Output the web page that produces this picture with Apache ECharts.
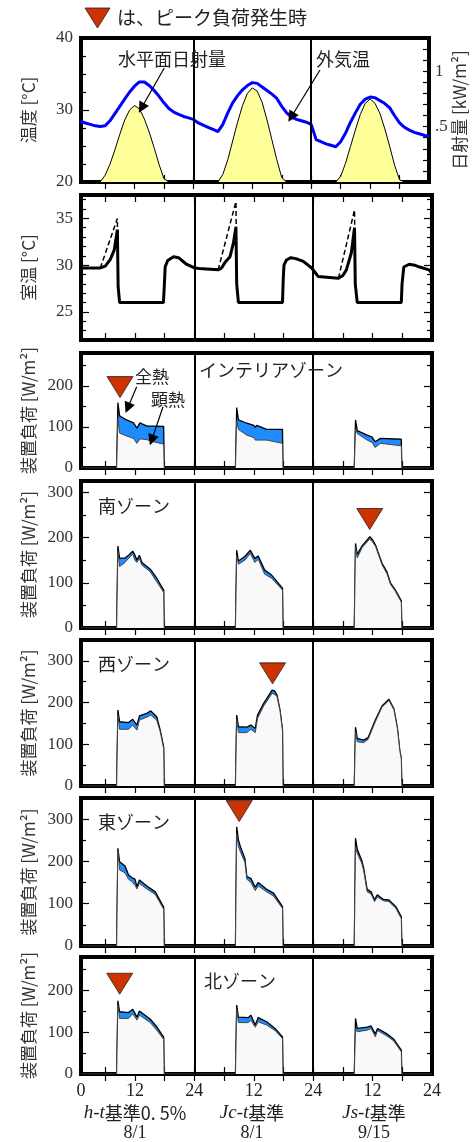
<!DOCTYPE html>
<html><head><meta charset="utf-8"><title>chart</title>
<script src="https://cdn.jsdelivr.net/npm/echarts@6.0.0/dist/echarts.min.js"></script>
<style>html,body{margin:0;padding:0;background:#fff;}#chart{width:476px;height:1142px;}</style>
</head><body><div id="chart"></div>
<script>
// ---------------- data ----------------
const outdoorTemp = [
  28.4, 28.2, 28.0, 27.8, 27.7, 27.8, 28.5, 29.5, 30.5, 31.5, 32.5, 33.3, 33.9, 33.9, 33.4, 32.7, 31.9, 31.0, 30.2, 29.7, 29.4, 29.1, 28.9, 28.7,
  28.2, 27.9, 27.6, 27.3, 27.0, 28.0, 29.6, 31.0, 32.0, 32.8, 33.4, 33.8, 33.7, 33.2, 32.7, 32.2, 31.6, 30.5, 29.6, 29.0, 28.7, 28.5, 28.3, 28.0,
  25.9, 25.6, 25.3, 25.1, 24.9, 25.6, 26.8, 28.3, 29.6, 30.8, 31.5, 31.8, 31.7, 31.3, 30.9, 30.3, 29.2, 28.2, 27.6, 27.2, 26.9, 26.7, 26.5, 26.3];
const solarRad = [
  0, 0, 0, 0, 0, 0.06, 0.16, 0.29, 0.43, 0.56, 0.65, 0.69, 0.66, 0.57, 0.45, 0.31, 0.16, 0.03, 0, 0, 0, 0, 0, 0,
  0, 0, 0, 0, 0, 0.07, 0.20, 0.37, 0.54, 0.69, 0.80, 0.85, 0.82, 0.72, 0.56, 0.38, 0.20, 0.04, 0, 0, 0, 0, 0, 0,
  0, 0, 0, 0, 0, 0.05, 0.17, 0.32, 0.47, 0.61, 0.71, 0.75, 0.71, 0.62, 0.48, 0.32, 0.15, 0.02, 0, 0, 0, 0, 0, 0];
const hours = Array.from({length: 72}, (_, i) => i + 1);

const roomHours = [1.1, 5.0, 6.0, 7.0, 7.8, 8.45, 8.6, 8.9, 17.75, 17.95, 18.1, 18.6, 19.8, 20.8, 22.4, 24.0,
  25.0, 28.8, 29.5, 30.2, 31.2, 31.9, 32.4, 32.55, 32.9, 41.8, 41.95, 42.1, 42.6, 43.5, 44.5, 46.0, 47.7, 48.0,
  49.0, 53.1, 54.0, 54.7, 55.7, 56.35, 56.5, 56.9, 65.8, 65.95, 66.3, 67.4, 68.5, 69.5, 71.4, 72];
const roomTemp = [29.7, 29.7, 29.9, 30.6, 31.6, 33.8, 27.7, 26.0, 26.0, 28.0, 29.8, 30.5, 30.9, 30.8, 30.1, 29.7,
  29.65, 29.5, 29.7, 30.3, 30.9, 32.4, 34.1, 28.0, 26.0, 26.0, 28.5, 30.0, 30.55, 30.8, 30.7, 30.4, 29.7, 29.6,
  28.8, 28.6, 28.9, 29.5, 31.3, 34.0, 28.0, 26.0, 26.0, 28.0, 29.8, 30.1, 30.0, 29.8, 29.5, 29.1];
const roomDashHours = [[5.0, 8.45, 8.6], [28.8, 32.4, 32.55], [53.1, 56.35, 56.5]];
const roomDashTemp = [[29.7, 35.0, 27.7], [29.5, 36.8, 28.0], [28.6, 35.9, 28.0]];

const intHours = [1.1, 8.3, 8.55, 8.8, 8.9, 10.3, 11.7, 12.4, 13.0, 14.4, 15.7, 17.8, 17.9,
  32.3, 32.55, 32.8, 32.9, 34.6, 36.0, 36.3, 36.6, 38.6, 41.8, 41.9,
  56.3, 56.55, 56.8, 56.9, 58.9, 59.9, 60.5, 61.6, 65.8, 65.9, 72];
const intTotal = [0, 0, 159, 159, 127, 117, 110, 97, 110, 102, 102, 101, 0,
  0, 147, 147, 117, 109, 104, 99, 104, 94, 94, 0,
  0, 117, 117, 91, 80, 75, 64, 72, 70, 0, 0];
const intSens = [0, 0, 120, 120, 85, 78, 72, 60, 71, 69, 64, 58, 0,
  0, 115, 115, 94, 80, 74, 68, 72, 68, 60, 0,
  0, 95, 95, 84, 68, 62, 50, 60, 54, 0, 0];

const southHours = [1.1, 8.3, 8.55, 8.8, 8.9, 10.0, 10.7, 11.55, 12.0, 12.4, 12.9, 13.4, 15.1, 16.4, 17.8, 17.9,
  32.3, 32.55, 32.8, 32.9, 34.2, 35.3, 36.2, 36.9, 38.2, 39.6, 41.8, 41.9,
  56.3, 56.55, 56.8, 56.9, 57.9, 59.45, 60.0, 60.6, 61.9, 62.9, 63.6, 64.6, 65.8, 65.9, 72];
const southTotal = [0, 0, 181, 181, 154, 155, 161, 170, 161, 150, 161, 145, 130, 110, 84, 0,
  0, 172, 172, 148, 158, 172, 154, 159, 128, 117, 88, 0,
  0, 187, 187, 163, 182, 202, 195, 183, 143, 124, 100, 84, 60, 0, 0];
const southSens = [0, 0, 170, 170, 136, 145, 154, 163, 150, 145, 154, 139, 124, 102, 79, 0,
  0, 160, 160, 141, 150, 165, 145, 152, 119, 110, 84, 0,
  0, 180, 180, 155, 178, 197, 190, 180, 140, 120, 97, 81, 57, 0, 0];

const westHours = [1.1, 8.3, 8.55, 8.8, 8.9, 10.7, 11.55, 12.4, 12.9, 14.4, 15.2, 16.4, 17.1, 17.8, 17.9,
  32.3, 32.55, 32.8, 32.9, 34.6, 35.4, 36.3, 36.75, 38.0, 39.7, 40.2, 40.7, 41.3, 41.8, 41.9,
  56.3, 56.55, 56.8, 56.9, 58.2, 59.1, 59.5, 60.55, 61.9, 63.3, 64.3, 65.0, 65.5, 65.8, 65.9, 72];
const westTotal = [0, 0, 182, 182, 154, 152, 160, 146, 168, 174, 180, 166, 134, 94, 0,
  0, 170, 170, 142, 141, 146, 138, 170, 198, 230, 228, 218, 182, 134, 0,
  0, 141, 141, 114, 110, 116, 120, 158, 192, 208, 185, 140, 85, 66, 0, 0];
const westSens = [0, 0, 170, 170, 136, 136, 146, 134, 158, 165, 170, 158, 130, 90, 0,
  0, 160, 160, 128, 128, 136, 128, 162, 192, 222, 220, 214, 180, 132, 0,
  0, 130, 130, 106, 104, 112, 116, 154, 189, 205, 183, 138, 84, 65, 0, 0];

const eastHours = [1.1, 8.3, 8.55, 8.8, 8.9, 10.0, 10.7, 11.35, 12.0, 12.4, 12.9, 14.4, 16.1, 17.8, 17.9,
  32.3, 32.55, 32.8, 32.9, 33.3, 34.2, 34.6, 35.4, 36.3, 36.9, 38.6, 40.0, 41.8, 41.9,
  56.3, 56.55, 56.8, 56.9, 57.8, 58.2, 58.9, 59.7, 60.4, 60.95, 62.2, 63.3, 64.7, 65.8, 65.9, 72];
const eastTotal = [0, 0, 231, 231, 199, 189, 168, 162, 158, 140, 156, 142, 128, 92, 0,
  0, 282, 282, 251, 235, 207, 164, 160, 139, 150, 134, 125, 93, 0,
  0, 255, 255, 229, 203, 184, 134, 128, 109, 121, 110, 109, 93, 69, 0, 0];
const eastSens = [0, 0, 225, 225, 180, 173, 158, 152, 144, 135, 148, 135, 122, 87, 0,
  0, 265, 265, 235, 223, 198, 158, 150, 131, 142, 128, 118, 89, 0,
  0, 235, 235, 219, 196, 178, 128, 123, 105, 116, 107, 105, 89, 65, 0, 0];

const northHours = [1.1, 8.3, 8.55, 8.8, 8.9, 10.7, 11.55, 12.4, 12.9, 15.1, 16.4, 17.8, 17.9,
  32.3, 32.55, 32.8, 32.9, 34.9, 35.4, 36.3, 36.9, 38.6, 40.3, 41.8, 41.9,
  56.3, 56.55, 56.8, 56.9, 58.9, 59.7, 60.55, 61.0, 62.9, 64.3, 65.8, 65.9, 72];
const northTotal = [0, 0, 175, 175, 149, 147, 155, 136, 151, 131, 113, 88, 0,
  0, 165, 165, 136, 135, 141, 117, 135, 125, 109, 89, 0,
  0, 133, 133, 109, 112, 115, 96, 109, 96, 83, 57, 0, 0];
const northSens = [0, 0, 165, 165, 133, 133, 144, 129, 141, 123, 105, 83, 0,
  0, 155, 155, 123, 123, 129, 112, 125, 117, 104, 85, 0,
  0, 108, 108, 101, 105, 109, 89, 104, 91, 79, 53, 0, 0];

const zoneNames = ['インテリアゾーン', '南ゾーン', '西ゾーン', '東ゾーン', '北ゾーン'];
const peakHours = [8.98, 59.42, 39.79, 33.06, 8.92];
const peakMarkLevels = [197, 241, 270, 319, 216];

const xLabelValues = [1.1, 12, 24, 36, 48, 60, 72];
const xTickLabels = ['0', '12', '24', '12', '24', '12', '24'];
const hourTicks = [6, 12, 18, 24, 30, 36, 42, 48, 54, 60, 66];
const caseLabels = ['{i|h-t}基準0. 5%', '{i|Jc-t}基準', '{i|Js-t}基準'];
const caseDates = ['8/1', '8/1', '9/15'];
// annotation arrows [fromX, fromY, toX, toY] in data units
const weatherArrows = [[18.07, 35.83, 13.42, 30.28], [49.79, 35.56, 43.93, 29.03]];
const loadArrows = [[12.35, 198, 10.53, 146], [17.67, 149, 15.38, 68]];

// ---------------- layout / style ----------------
const SERIF = "'Liberation Serif','DejaVu Serif',serif";
const JP = "'Noto Sans CJK JP','Noto Sans',sans-serif";
const LOADNAME = '装置負荷 [W/m²]';
const GL = 81, GW = 351;
const tops = [38, 195, 353, 481, 640, 798, 957];
const heights = [144, 145, 115, 147, 146, 148, 117];
const yCfg = [
  {min: 20, max: 40, major: [20, 30, 40], minor: [22.5, 25, 27.5, 32.5, 35, 37.5], name: '温度 [°C]'},
  {min: 22, max: 37.5, major: [25, 30, 35], minor: [23, 24, 26, 27, 28, 29, 31, 32, 33, 34, 36, 37], name: '室温 [°C]'},
  {min: 0, max: 280, major: [0, 100, 200], minor: [50, 150, 250], name: LOADNAME},
  {min: 0, max: 325, major: [0, 100, 200, 300], minor: [50, 150, 250], name: LOADNAME},
  {min: 0, max: 350, major: [0, 100, 200, 300], minor: [50, 150, 250], name: LOADNAME},
  {min: 0, max: 350, major: [0, 100, 200, 300], minor: [50, 150, 250], name: LOADNAME},
  {min: 0, max: 280, major: [0, 100, 200], minor: [50, 150, 250], name: LOADNAME}
];
const zip = (xs, ys) => xs.map((x, i) => [x, ys[i]]);
const tickStyle = {color: '#000', width: 1.2};

const grid = [], xAxis = [], yAxis = [], series = [];
tops.forEach((t, i) => {
  grid.push({left: GL, width: GW, top: t, height: heights[i], show: true, borderColor: '#000', borderWidth: 4, backgroundColor: 'rgba(0,0,0,0)'});
  const last = i === 6;
  xAxis.push({gridIndex: i, type: 'value', min: 1.1, max: 72, position: 'bottom',
    axisLine: {show: false}, splitLine: {show: false},
    axisTick: {show: true, inside: true, length: 7, customValues: hourTicks, lineStyle: tickStyle},
    axisLabel: {show: last, customValues: xLabelValues, showMinLabel: true, showMaxLabel: true,
      formatter: v => { const k = xLabelValues.findIndex(a => Math.abs(a - v) < 0.01); return k >= 0 ? xTickLabels[k] : ''; },
      fontFamily: SERIF, fontSize: 18, color: '#222', margin: 8}});
  xAxis.push({gridIndex: i, type: 'value', min: 1.1, max: 72, position: 'top',
    axisLine: {show: false}, splitLine: {show: false},
    axisTick: {show: true, inside: true, length: 7, customValues: hourTicks, lineStyle: tickStyle},
    axisLabel: {show: false}});
  const c = yCfg[i];
  yAxis.push({gridIndex: i, type: 'value', min: c.min, max: c.max, position: 'left',
    axisLine: {show: false}, splitLine: {show: false},
    axisTick: {show: true, inside: true, length: 8, customValues: c.major, lineStyle: tickStyle},
    axisLabel: {show: true, customValues: c.major, showMinLabel: true, showMaxLabel: true, formatter: v => String(v),
      fontFamily: SERIF, fontSize: 17, color: '#333', margin: 8},
    name: c.name, nameLocation: 'middle', nameGap: 44, nameRotate: 90, nameMoveOverlap: false,
    nameTextStyle: {fontFamily: JP, fontSize: 17, color: '#333'}});
  yAxis.push({gridIndex: i, type: 'value', min: c.min, max: c.max, position: 'left',
    axisLine: {show: false}, splitLine: {show: false},
    axisTick: {show: true, inside: true, length: 5, customValues: c.minor, lineStyle: tickStyle},
    axisLabel: {show: false}});
  if (i === 0) {
    yAxis.push({gridIndex: 0, type: 'value', min: 0, max: 1.3, position: 'right',
      axisLine: {show: false}, splitLine: {show: false},
      axisTick: {show: true, inside: true, length: 6, customValues: [0.1,0.2,0.3,0.4,0.5,0.6,0.7,0.8,0.9,1.0,1.1,1.2], lineStyle: tickStyle},
      axisLabel: {show: true, customValues: [0.5, 1], formatter: v => (Math.abs(v - 1) < 0.01 ? '1' : '.5'),
        fontFamily: SERIF, fontSize: 17, color: '#333', margin: 6},
      name: '日射量 [kW/m²]', nameLocation: 'middle', nameGap: 22, nameRotate: 90, nameMoveOverlap: false,
      nameTextStyle: {fontFamily: JP, fontSize: 17, color: '#333'}});
    yAxis.push({gridIndex: 0, type: 'value', min: 0, max: 1.3, position: 'right', show: false});
  } else {
    yAxis.push({gridIndex: i, type: 'value', min: c.min, max: c.max, position: 'right',
      axisLine: {show: false}, splitLine: {show: false},
      axisTick: {show: true, inside: true, length: 8, customValues: c.major, lineStyle: tickStyle},
      axisLabel: {show: false}});
    yAxis.push({gridIndex: i, type: 'value', min: c.min, max: c.max, position: 'right',
      axisLine: {show: false}, splitLine: {show: false},
      axisTick: {show: true, inside: true, length: 5, customValues: c.minor, lineStyle: tickStyle},
      axisLabel: {show: false}});
  }
});

const sepLine = {silent: true, symbol: ['none', 'none'], label: {show: false},
  lineStyle: {color: '#000', width: 2, type: 'solid'}, data: [{xAxis: 24}, {xAxis: 48}]};
const arrowLine = list => ({silent: true, symbol: ['none', 'triangle'], symbolSize: 11, label: {show: false},
  lineStyle: {color: '#000', width: 1.2, type: 'solid'},
  data: list.map(a => [{coord: [a[0], a[1]]}, {coord: [a[2], a[3]]}])});

// panel 1: weather
series.push({type: 'line', xAxisIndex: 0, yAxisIndex: 2, data: zip(hours, solarRad), showSymbol: false,
  lineStyle: {color: '#000', width: 1}, areaStyle: {color: '#FFFF99', opacity: 1}, z: 2, markLine: sepLine});
series.push({type: 'line', xAxisIndex: 0, yAxisIndex: 0, data: zip(hours, outdoorTemp), showSymbol: false,
  lineStyle: {color: '#0000FF', width: 3}, z: 4, markLine: arrowLine(weatherArrows)});
// panel 2: room temperature
series.push({type: 'line', xAxisIndex: 2, yAxisIndex: 4, data: zip(roomHours, roomTemp), showSymbol: false,
  lineStyle: {color: '#000', width: 3}, z: 4, markLine: sepLine});
roomDashHours.forEach((hs, k) => series.push({type: 'line', xAxisIndex: 2, yAxisIndex: 4, data: zip(hs, roomDashTemp[k]),
  showSymbol: false, lineStyle: {color: '#000', width: 1.5, type: [5, 3]}, z: 5}));
// load panels
const zones = [[intHours, intTotal, intSens], [southHours, southTotal, southSens], [westHours, westTotal, westSens],
  [eastHours, eastTotal, eastSens], [northHours, northTotal, northSens]];
zones.forEach((z, k) => {
  const gi = k + 2;
  series.push({type: 'line', xAxisIndex: 2 * gi, yAxisIndex: 4 * gi, data: zip(z[0], z[1]), showSymbol: false,
    lineStyle: {color: '#000', width: 1.3}, areaStyle: {color: '#1E8CFF', opacity: 1}, z: 2,
    markLine: k === 0 ? arrowLine(loadArrows) : sepLine});
  series.push({type: 'line', xAxisIndex: 2 * gi, yAxisIndex: 4 * gi, data: zip(z[0], z[2]), showSymbol: false,
    lineStyle: {color: '#444', width: 1}, areaStyle: {color: '#f9f9f9', opacity: 1}, z: 3,
    markLine: k === 0 ? sepLine : undefined});
  series.push({type: 'scatter', xAxisIndex: 2 * gi, yAxisIndex: 4 * gi, data: [[peakHours[k], peakMarkLevels[k]]],
    symbol: 'triangle', symbolRotate: 180, symbolSize: [26, 21], clip: false,
    itemStyle: {color: '#CC3300', borderColor: '#222', borderWidth: 0.8, opacity: 1}, z: 6});
});

const txt = (x, y, text, size, align, extra) => Object.assign({type: 'text', x: x, y: y, z: 100,
  style: {text: text, fontFamily: JP, fontSize: size, fill: '#222', align: align || 'center', textAlign: align || 'center',
    verticalAlign: 'middle', textVerticalAlign: 'middle'}}, extra || {});
const graphic = [
  {type: 'polygon', z: 100, shape: {points: [[85, 8], [110, 8], [97.5, 28]]}, style: {fill: '#CC3300', stroke: '#222', lineWidth: 0.8}},
  txt(117, 18, 'は、ピーク負荷発生時', 19, 'left'),
  txt(172, 59, '水平面日射量', 18),
  txt(343, 59, '外気温', 18),
  txt(152, 377, '全熱', 17),
  txt(168, 400, '顕熱', 17),
  txt(271, 370, zoneNames[0], 18),
  txt(134, 506, zoneNames[1], 18),
  txt(134, 664, zoneNames[2], 18),
  txt(134, 822, zoneNames[3], 18),
  txt(240, 981, zoneNames[4], 18)
];
const caseX = [135, 252, 374];
caseLabels.forEach((s, k) => {
  graphic.push({type: 'text', x: caseX[k], y: 1113, z: 100, style: {text: s, fontFamily: JP, fontSize: 18, fill: '#222',
    align: 'center', textAlign: 'center', verticalAlign: 'middle', textVerticalAlign: 'middle',
    rich: {i: {fontFamily: SERIF, fontStyle: 'italic', fontSize: 19, fill: '#222'}}}});
  graphic.push({type: 'text', x: caseX[k], y: 1133, z: 100, style: {text: caseDates[k], fontFamily: SERIF, fontSize: 18, fill: '#222',
    align: 'center', textAlign: 'center', verticalAlign: 'middle', textVerticalAlign: 'middle'}});
});

const chart = echarts.init(document.getElementById('chart'), null, {renderer: 'canvas'});
chart.setOption({animation: false, backgroundColor: '#fff', grid, xAxis, yAxis, series, graphic});
</script>
</body></html>
